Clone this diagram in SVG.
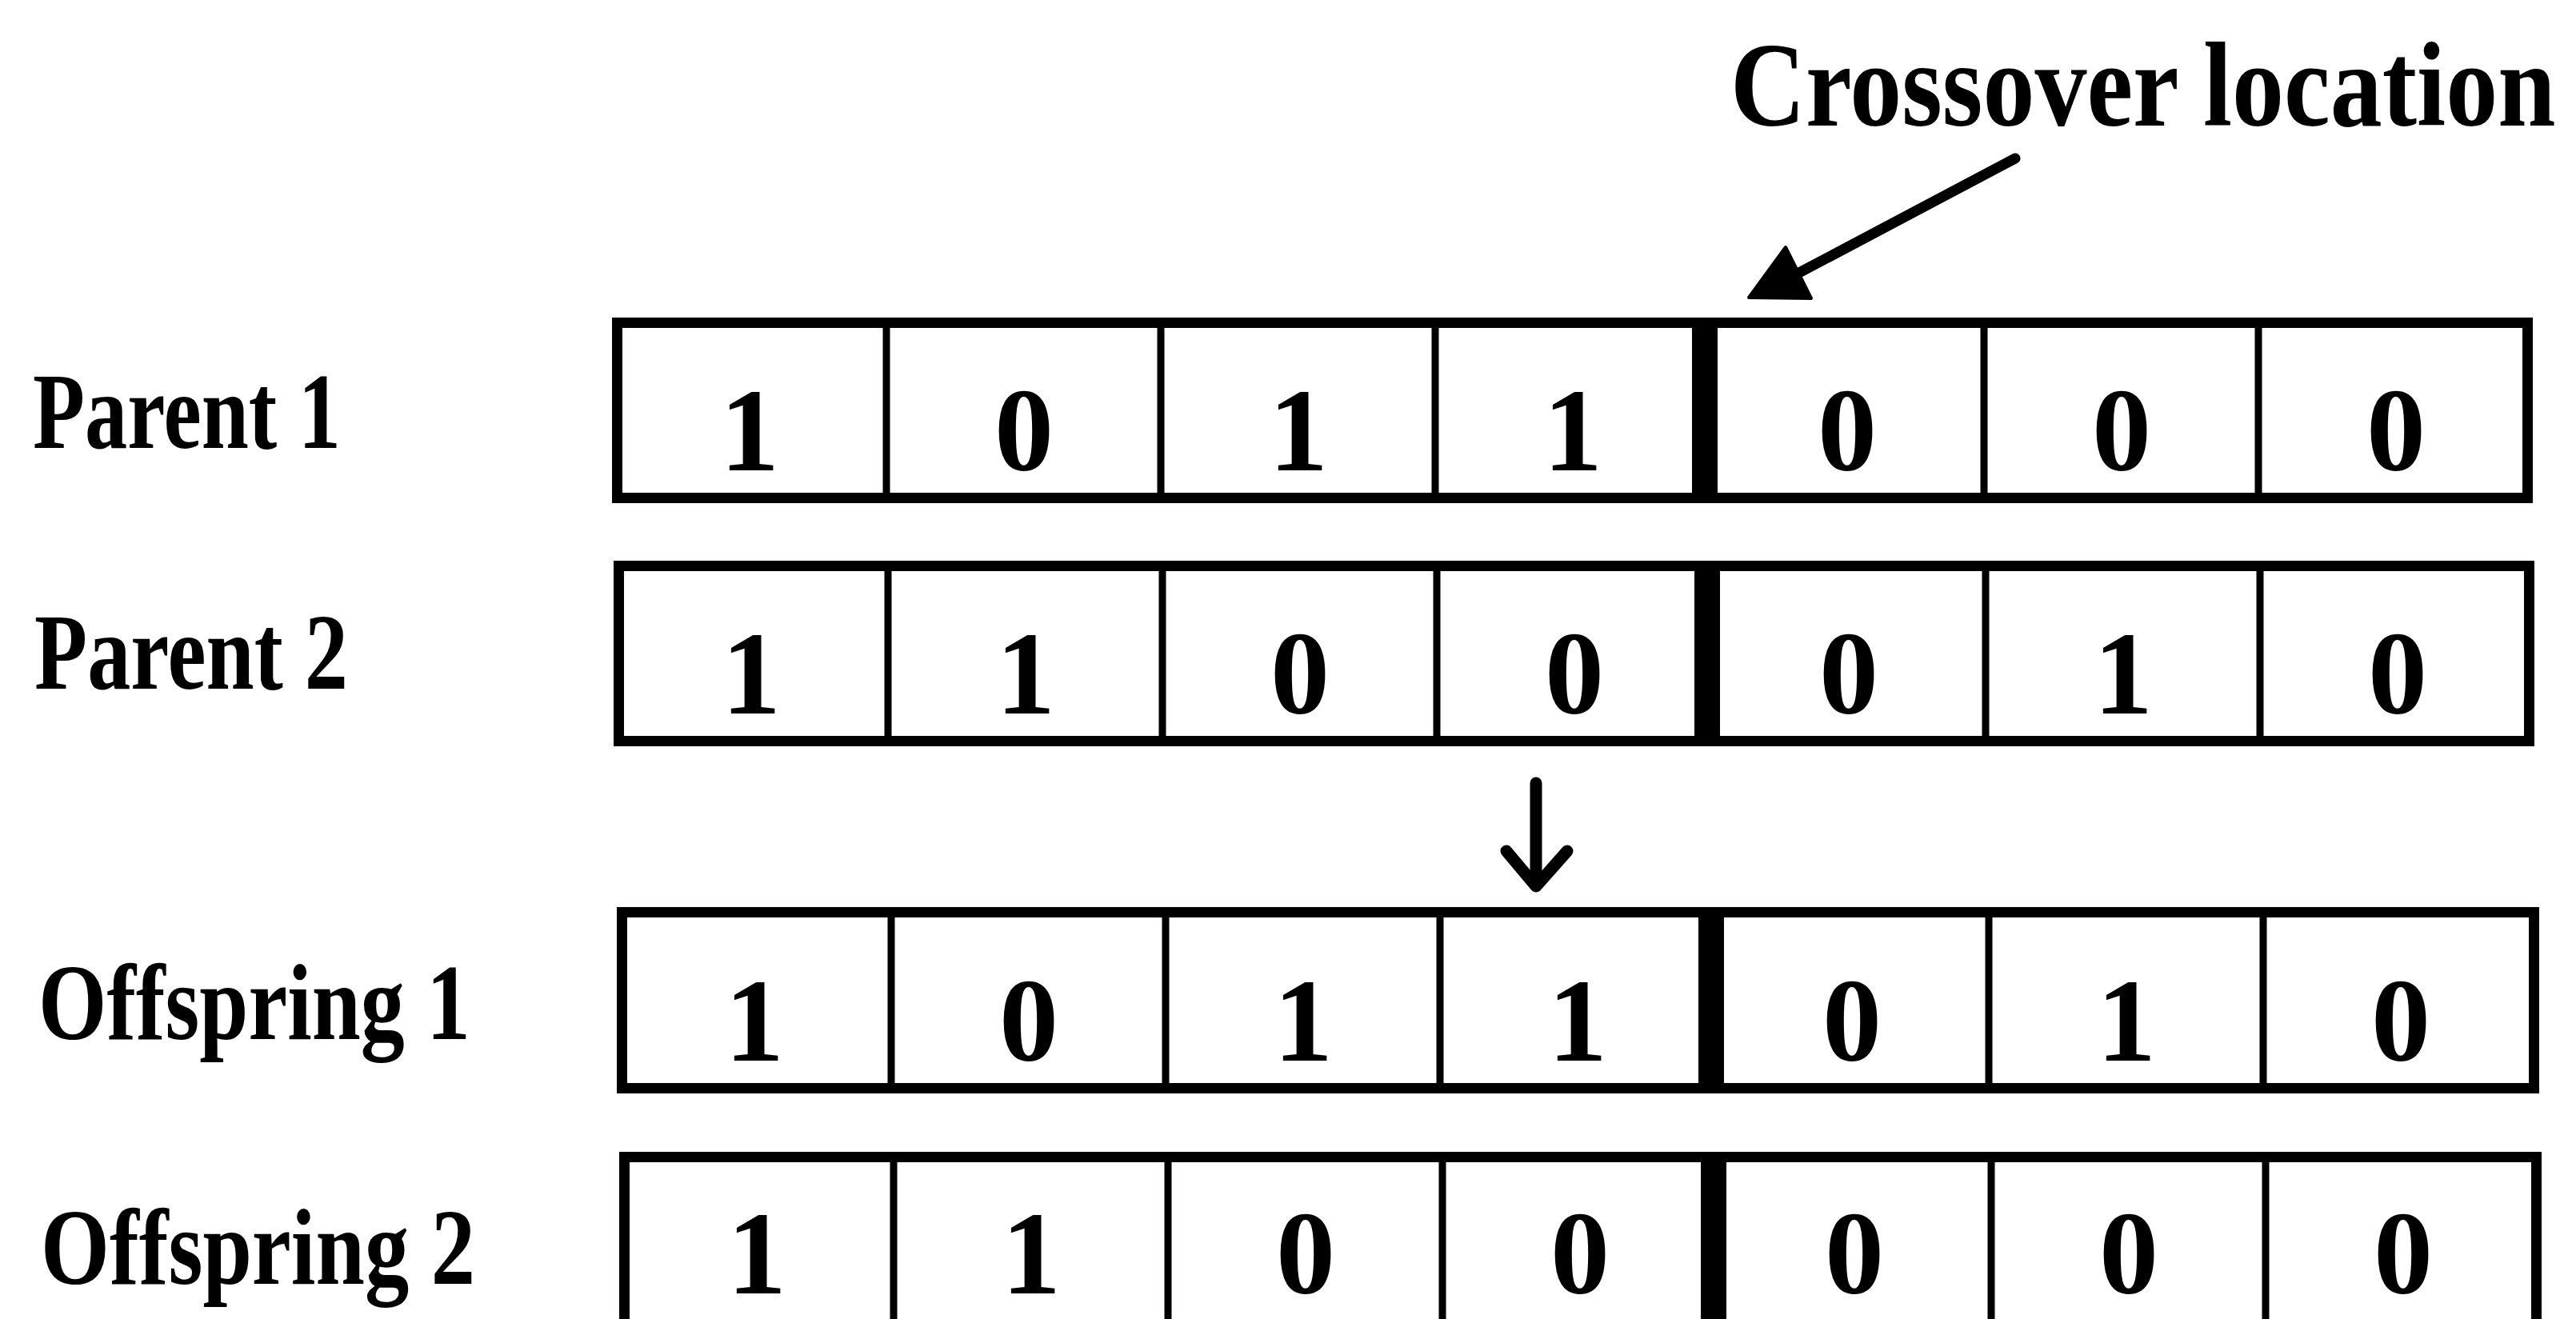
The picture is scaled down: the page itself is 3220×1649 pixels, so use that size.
<svg xmlns="http://www.w3.org/2000/svg" width="3220" height="1649" viewBox="0 0 3220 1649">
<style>
.box{fill:#fff;stroke:#000;stroke-width:13}
.div{stroke:#000;stroke-width:9}
.cut{stroke:#000;stroke-width:32}
.bit{font-family:"Liberation Serif","Times New Roman",serif;font-weight:bold;font-size:148px;text-anchor:middle;fill:#000}
.lbl{font-family:"Liberation Serif","Times New Roman",serif;font-weight:bold;font-size:135px;fill:#000}
.title{font-family:"Liberation Serif","Times New Roman",serif;font-weight:bold;font-size:130px;fill:#000}
.conn{stroke:#000;fill:none;stroke-linecap:round;stroke-linejoin:round}
</style>
<rect width="3220" height="1649" fill="#fff"/>
<g transform="translate(2163,157) scale(1,1.154)">
<text class="title" x="0" y="0">Crossover location</text>
</g>

<g id="parent1">
<text class="lbl" x="41" y="560" textLength="385" lengthAdjust="spacingAndGlyphs">Parent 1</text>
<rect class="box" x="771.5" y="403.5" width="2388" height="219"/>
<line class="div" x1="1108" y1="404" x2="1108" y2="622"/>
<line class="div" x1="1451" y1="404" x2="1451" y2="622"/>
<line class="div" x1="1794" y1="404" x2="1794" y2="622"/>
<line class="cut" x1="2131" y1="404" x2="2131" y2="622"/>
<line class="div" x1="2480" y1="404" x2="2480" y2="622"/>
<line class="div" x1="2823" y1="404" x2="2823" y2="622"/>
<text class="bit" x="937" y="588">1</text>
<text class="bit" x="1280" y="588">0</text>
<text class="bit" x="1623" y="588">1</text>
<text class="bit" x="1966" y="588">1</text>
<text class="bit" x="2309" y="588">0</text>
<text class="bit" x="2652" y="588">0</text>
<text class="bit" x="2995" y="588">0</text>
</g>

<g id="parent2">
<text class="lbl" x="43" y="861" textLength="392" lengthAdjust="spacingAndGlyphs">Parent 2</text>
<rect class="box" x="773.5" y="707.5" width="2388" height="219"/>
<line class="div" x1="1110" y1="708" x2="1110" y2="926"/>
<line class="div" x1="1453" y1="708" x2="1453" y2="926"/>
<line class="div" x1="1796" y1="708" x2="1796" y2="926"/>
<line class="cut" x1="2134" y1="708" x2="2134" y2="926"/>
<line class="div" x1="2482" y1="708" x2="2482" y2="926"/>
<line class="div" x1="2825" y1="708" x2="2825" y2="926"/>
<text class="bit" x="939" y="892">1</text>
<text class="bit" x="1282" y="892">1</text>
<text class="bit" x="1625" y="892">0</text>
<text class="bit" x="1968" y="892">0</text>
<text class="bit" x="2311" y="892">0</text>
<text class="bit" x="2654" y="892">1</text>
<text class="bit" x="2997" y="892">0</text>
</g>

<g id="offspring1">
<text class="lbl" x="48" y="1299" textLength="540" lengthAdjust="spacingAndGlyphs">Offspring 1</text>
<rect class="box" x="777.5" y="1140.5" width="2390" height="220"/>
<line class="div" x1="1114" y1="1141" x2="1114" y2="1360"/>
<line class="div" x1="1457" y1="1141" x2="1457" y2="1360"/>
<line class="div" x1="1800" y1="1141" x2="1800" y2="1360"/>
<line class="cut" x1="2139" y1="1141" x2="2139" y2="1360"/>
<line class="div" x1="2486" y1="1141" x2="2486" y2="1360"/>
<line class="div" x1="2829" y1="1141" x2="2829" y2="1360"/>
<text class="bit" x="943" y="1326">1</text>
<text class="bit" x="1286" y="1326">0</text>
<text class="bit" x="1629" y="1326">1</text>
<text class="bit" x="1972" y="1326">1</text>
<text class="bit" x="2315" y="1326">0</text>
<text class="bit" x="2658" y="1326">1</text>
<text class="bit" x="3001" y="1326">0</text>
</g>

<g id="offspring2">
<text class="lbl" x="51" y="1605" textLength="543" lengthAdjust="spacingAndGlyphs">Offspring 2</text>
<rect class="box" x="780.5" y="1446.5" width="2390" height="230"/>
<line class="div" x1="1117" y1="1447" x2="1117" y2="1680"/>
<line class="div" x1="1460" y1="1447" x2="1460" y2="1680"/>
<line class="div" x1="1803" y1="1447" x2="1803" y2="1680"/>
<line class="cut" x1="2142" y1="1447" x2="2142" y2="1680"/>
<line class="div" x1="2489" y1="1447" x2="2489" y2="1680"/>
<line class="div" x1="2832" y1="1447" x2="2832" y2="1680"/>
<text class="bit" x="946" y="1617">1</text>
<text class="bit" x="1289" y="1617">1</text>
<text class="bit" x="1632" y="1617">0</text>
<text class="bit" x="1975" y="1617">0</text>
<text class="bit" x="2318" y="1617">0</text>
<text class="bit" x="2661" y="1617">0</text>
<text class="bit" x="3004" y="1617">0</text>
</g>

<g id="connectors">
<line class="conn" x1="2519" y1="198" x2="2245" y2="343" stroke-width="13"/>
<polygon points="2186,372 2232,309 2264,373" fill="#000" stroke="#000" stroke-width="4" stroke-linejoin="round"/>
<line class="conn" x1="1920" y1="979" x2="1920" y2="1106" stroke-width="15"/>
<polyline class="conn" points="1883,1064 1920,1108 1959,1064" stroke-width="15"/>
</g>
</svg>
